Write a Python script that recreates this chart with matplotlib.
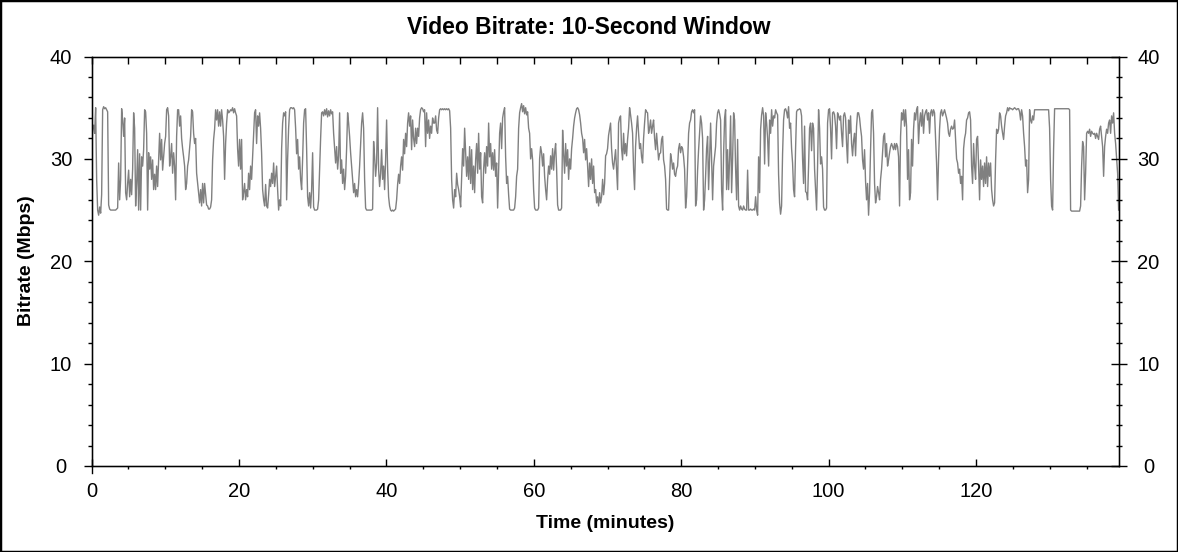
import numpy as np
import matplotlib
matplotlib.use('Agg')
import matplotlib.pyplot as plt
from matplotlib.patches import Rectangle
from matplotlib.ticker import MultipleLocator

plt.rcParams['font.family'] = ['Liberation Sans', 'DejaVu Sans']

# Bitrate (Mbps), one value per screen column, in six stretches
bitrate_a = [
    30.9, 32.9, 33.3, 32.5, 35.0, 28.0, 25.0, 24.5, 25.3, 24.7,
    26.5, 34.8, 35.1, 34.9, 35.0, 34.8, 34.6, 25.5, 25.1, 25.0,
    25.0, 25.0, 25.0, 25.0, 25.0, 25.1, 25.2, 29.6, 26.0, 28.0,
    34.9, 33.8, 32.2, 34.0, 26.7, 26.0, 27.6, 28.9, 26.3, 28.0,
    26.5, 29.0, 34.5, 33.0, 25.4, 27.6, 30.9, 25.0, 30.5, 25.0,
    30.2, 29.3, 30.9, 34.8, 34.6, 32.5, 25.0, 30.6, 29.0, 30.2,
    28.0, 29.9, 27.0, 28.5, 27.0, 29.3, 27.3, 29.9, 32.5, 29.9,
    31.9, 28.9, 30.2, 31.5, 32.2, 34.8, 35.0, 34.2, 29.3, 30.2,
    31.5, 28.6, 30.6, 29.3, 26.0, 32.2, 34.8, 34.8, 33.2, 34.2,
    32.0, 31.0, 30.2, 29.3, 27.0, 27.6, 29.3, 29.9, 31.0, 32.2,
    34.8, 34.6, 32.5, 31.5, 32.0, 28.6, 27.6, 26.7, 25.7, 27.0,
    25.4, 27.6, 25.7, 27.6, 26.5, 25.5, 25.4, 25.1, 25.1, 25.3,
    26.0, 29.9, 31.9, 32.9, 34.8, 33.8, 34.8, 33.2, 34.6, 33.2,
    34.8, 33.8, 32.2, 28.0, 31.5, 33.5, 34.8, 34.5, 34.6, 34.8,
    34.7, 35.0, 34.5, 34.9, 34.5, 34.2, 31.0, 29.3, 31.9, 29.0,
    31.9, 26.0, 26.7, 27.6, 26.0, 27.0, 26.3, 28.6, 27.0, 29.3,
    28.0, 30.2, 32.5, 34.5, 34.8, 31.5, 34.2, 33.2, 34.5, 33.0,
    30.6,
]
bitrate_b = [
    27.0, 26.0, 25.4, 27.5, 25.4, 25.2, 26.5, 28.0, 27.3, 28.6,
    27.6, 29.6, 27.3, 28.3, 29.3, 27.0, 25.0, 26.0, 25.4, 31.0,
    33.5, 34.5, 34.2, 34.6, 26.0, 30.0, 33.0, 34.8, 35.0, 35.0,
    34.9, 35.0, 34.8, 33.0, 30.5, 31.9, 29.0, 30.2, 28.0, 27.0,
    30.0, 33.5, 34.8, 34.9, 31.0, 26.3, 25.4, 26.7, 25.2, 27.0,
    30.6, 25.3, 25.0, 25.0, 25.0, 25.1, 26.0, 29.0, 32.0, 34.5,
    34.6, 34.2, 34.8, 34.3, 34.9, 34.1, 34.7, 34.2, 34.8, 34.4,
    34.6, 32.5, 31.0, 29.6, 31.2, 29.0, 30.3, 34.5, 28.6, 29.9,
    27.6, 29.0, 27.0, 28.3, 31.0, 34.5, 33.5, 32.2, 30.6, 29.3,
    28.0, 26.7, 27.6, 26.3, 27.0, 26.3, 27.6, 29.3, 31.5, 33.5,
    34.5, 33.0, 28.0, 25.2, 25.0, 25.0, 25.0, 25.0, 25.0, 25.0,
    25.1, 31.7, 30.2, 28.3, 29.6, 35.0, 29.0, 27.3, 28.6, 30.9,
    28.0, 29.3, 27.0, 29.9, 33.8, 29.0, 26.3, 25.4, 25.0, 24.9,
    25.0, 24.9, 25.0, 25.1, 26.0, 27.5, 28.5, 27.6, 29.3, 30.2,
    28.9, 31.9, 30.5, 32.5, 31.2, 33.5, 34.5, 33.2, 34.2, 30.9,
    33.8, 32.0, 31.2, 33.0, 31.5, 33.0, 32.2, 34.0, 34.8, 35.0,
    34.9, 34.6, 34.8, 31.2, 34.5, 32.5, 33.8, 32.0, 33.2, 32.5,
    34.0, 33.5,
]
bitrate_c = [
    33.5, 34.2, 32.8, 32.5, 34.0, 34.8, 34.9, 34.8, 34.9, 34.8,
    34.9, 34.8, 34.9, 34.8, 34.9, 34.7, 33.0, 28.0, 26.0, 25.2,
    27.0, 26.3, 28.6, 27.5, 27.0, 26.3, 25.3, 28.0, 31.0, 29.3,
    33.0, 30.6, 28.3, 30.2, 28.0, 31.2, 27.6, 30.9, 27.0, 29.3,
    26.7, 29.9, 31.5, 28.6, 32.5, 29.0, 30.6, 26.3, 25.7, 29.0,
    30.6, 28.6, 31.2, 29.3, 33.5, 30.2, 31.5, 29.0, 30.6, 28.9,
    30.9, 28.3, 29.6, 25.2, 29.0, 32.5, 33.5, 31.0, 34.0, 34.6,
    35.0, 30.2, 27.6, 28.3, 26.5, 25.1, 25.0, 25.0, 25.0, 25.0,
    25.2, 26.3, 28.3, 29.0, 33.0, 34.5, 35.0, 35.4, 34.6, 35.2,
    34.4, 35.0, 34.3, 34.6, 33.0, 32.5, 30.0, 31.0, 29.9, 27.0,
    25.2, 25.0, 25.0, 25.0, 25.2, 30.0, 31.2, 30.6, 29.3, 30.5,
    28.3, 27.0, 26.0, 28.0, 29.3, 28.5, 30.3, 29.0, 31.0, 28.9,
    30.6, 31.5, 29.0, 25.5, 25.0, 25.0, 25.0, 25.2, 32.8, 30.5,
    28.6, 31.5, 29.3, 30.9, 28.0, 30.0, 29.0, 31.0, 32.0, 33.2,
    34.0, 34.5, 34.9, 35.0, 34.8, 34.3, 33.5, 32.5, 32.0, 30.6,
    31.9, 29.9, 31.0, 29.3, 27.3, 29.6, 28.0, 30.0, 27.6, 29.3,
    26.7, 27.0, 25.7, 26.3, 25.4, 26.7, 25.7, 26.3, 28.0, 26.5,
    27.6, 30.3,
]
bitrate_d = [
    30.5, 31.0, 32.3, 32.9, 33.5, 31.0, 29.6, 29.0, 30.0, 30.9,
    29.0, 27.0, 33.5, 34.0, 34.2, 31.0, 29.9, 32.5, 30.5, 31.5,
    30.3, 31.9, 33.0, 35.0, 34.3, 33.5, 32.5, 29.0, 27.0, 31.2,
    33.0, 34.2, 32.5, 31.0, 31.5, 30.2, 29.6, 32.0, 33.5, 34.8,
    34.6, 34.5, 32.5, 33.0, 33.8, 32.5, 33.2, 33.8, 32.0, 30.9,
    32.5, 31.2, 29.9, 30.5, 30.6, 31.9, 32.2, 29.9, 29.3, 28.0,
    25.1, 25.0, 25.0, 28.0, 30.5, 29.9, 29.0, 29.6, 28.5, 28.3,
    29.0, 29.3, 31.0, 31.5, 30.6, 31.2, 31.0, 30.2, 29.0, 25.2,
    26.3, 29.3, 32.5, 33.5, 33.8, 34.6, 34.8, 34.5, 34.8, 25.4,
    26.0, 28.9, 30.9, 32.5, 34.2, 33.5, 32.0, 25.0, 26.0, 28.3,
    31.0, 32.2, 27.0, 30.0, 33.5, 30.0, 26.0, 29.3, 30.3, 31.2,
    33.5, 34.5, 34.8, 34.4, 33.8, 27.0, 25.0, 30.5, 34.0, 34.8,
    27.0, 30.9, 27.0, 30.0, 34.2, 26.7, 30.0, 34.5, 33.8, 29.0,
    26.0, 31.9, 25.4, 25.0, 25.4, 25.1, 25.0, 25.4, 25.1, 25.0,
    25.0, 28.9, 25.0, 25.0, 25.1, 25.0, 25.0, 25.1, 25.0, 26.3,
    25.0, 24.5, 30.2, 26.7, 32.9, 34.3, 35.0, 34.2, 29.5, 34.5,
    33.5, 32.0, 29.3, 33.8, 32.5, 34.8, 33.2, 34.2, 34.0, 34.8,
    34.5, 34.3,
]
bitrate_e = [
    28.5, 25.7, 24.6, 25.4, 30.5, 33.8, 34.8, 34.9, 34.6, 34.0,
    35.1, 33.0, 33.5, 31.0, 29.6, 27.0, 26.3, 31.0, 34.6, 34.8,
    34.8, 34.9, 34.8, 34.2, 30.0, 27.6, 33.2, 26.8, 26.7, 26.0,
    29.3, 33.0, 33.5, 30.8, 33.5, 33.0, 29.0, 27.0, 25.0, 29.3,
    34.8, 33.0, 29.5, 30.2, 29.0, 25.3, 25.0, 25.0, 25.2, 33.5,
    34.8, 34.9, 33.0, 30.0, 34.5, 34.6, 34.3, 33.2, 31.0, 34.5,
    34.2, 33.8, 34.2, 32.5, 31.2, 34.2, 34.5, 34.0, 31.5, 29.6,
    33.8, 32.5, 34.2, 31.5, 30.3, 31.8, 32.5, 30.3, 33.2, 34.5,
    34.5, 34.0, 33.0, 32.2, 29.9, 29.0, 30.9, 27.8, 26.0, 27.6,
    24.5, 26.7, 30.9, 34.5, 34.8, 32.5, 27.6, 25.7, 26.3, 27.3,
    26.7, 26.0, 28.0, 29.0, 30.6, 32.2, 32.5, 30.2, 31.5, 29.3,
    29.9, 30.6, 31.2, 31.5, 31.2, 30.9, 31.5, 30.9, 31.5, 31.2,
    30.2, 25.4, 32.2, 34.5, 33.8, 34.8, 33.2, 34.8, 33.2, 28.0,
    30.9, 26.0, 26.7, 31.9, 29.3, 32.9, 34.5, 33.8, 34.8, 35.1,
    31.5, 33.5, 34.5, 33.2, 34.8, 32.5, 34.2, 34.6, 34.8, 33.8,
    34.5, 32.5, 34.5, 34.8, 34.2, 34.8, 34.5, 32.0, 29.6, 26.0,
    29.9, 32.9, 34.5, 34.8, 34.2, 34.5, 34.8, 34.4, 34.0, 33.5,
    32.5, 32.2,
]
bitrate_f = [
    32.9, 33.2, 32.9, 33.0, 33.8, 32.0, 30.0, 29.6, 28.6, 29.0,
    27.6, 28.3, 26.0, 31.0, 32.0, 32.5, 33.8, 34.0, 34.5, 34.6,
    33.8, 29.3, 27.6, 31.5, 29.3, 28.0, 31.9, 32.2, 29.3, 26.0,
    29.9, 28.0, 29.3, 27.3, 29.6, 27.6, 30.2, 27.3, 29.6, 28.3,
    29.6, 27.0, 26.0, 25.4, 25.7, 29.9, 32.9, 32.5, 32.9, 34.5,
    34.2, 33.2, 32.5, 31.9, 33.2, 34.2, 34.5, 35.0, 34.7, 35.0,
    34.9, 34.9, 34.8, 34.9, 35.0, 34.9, 34.8, 34.9, 34.9, 34.6,
    33.8, 34.8, 34.2, 32.5, 31.2, 29.3, 29.9, 26.7, 28.0, 34.8,
    33.8, 33.5, 34.2, 33.8, 34.8, 34.8, 34.8, 34.8, 34.8, 34.8,
    34.8, 34.8, 34.8, 34.8, 34.8, 34.8, 34.8, 34.8, 34.8, 33.0,
    28.0, 25.4, 25.0, 31.0, 34.9, 34.9, 34.9, 34.9, 34.9, 34.9,
    34.9, 34.9, 34.9, 34.9, 34.9, 34.9, 34.9, 34.9, 34.9, 34.8,
    25.0, 24.9, 24.9, 24.9, 24.9, 24.9, 24.9, 24.9, 24.9, 24.9,
    25.4, 29.3, 31.7, 31.2, 26.0, 28.6, 32.5, 32.7, 32.5, 32.9,
    32.2, 32.7, 32.5, 32.4, 32.5, 32.0, 32.5, 32.2, 31.9, 32.9,
    33.2, 32.2, 31.2, 28.3, 31.2, 32.2, 32.9, 32.5, 33.5, 33.8,
    32.5, 34.2, 33.5, 34.5, 32.5, 31.5, 30.0, 28.6, 25.0,
]

# start / end time (minutes) of each stretch
stretch_minutes = [
    (0.0, 23.06), (23.2, 46.4), (46.54, 69.74),
    (69.87, 93.08), (93.21, 116.41), (116.55, 139.35),
]
stretches = [bitrate_a, bitrate_b, bitrate_c, bitrate_d, bitrate_e, bitrate_f]

time_min = np.concatenate([np.linspace(t0, t1, len(v))
                           for (t0, t1), v in zip(stretch_minutes, stretches)])
bitrate = np.concatenate(stretches)

fig = plt.figure(figsize=(11.78, 5.52), dpi=100)
ax = fig.add_axes([0.0778, 0.1558, 0.8721, 0.7418])

ax.plot(time_min, bitrate, color='#808080', linewidth=1.0)

ax.set_xlim(0, 139.4)
ax.set_ylim(0, 40)
ax.xaxis.set_major_locator(MultipleLocator(20))
ax.xaxis.set_minor_locator(MultipleLocator(5))
ax.yaxis.set_major_locator(MultipleLocator(10))
ax.yaxis.set_minor_locator(MultipleLocator(2))

for sp in ax.spines.values():
    sp.set_linewidth(1.0)

# left labels are centred under a point ~31 px left of the spine
ax.tick_params(axis='y', which='major', direction='out', length=5.8, width=1,
               labelsize=14.5, pad=16.3)
ax.tick_params(axis='y', which='minor', direction='out', length=3, width=1)
ax.tick_params(axis='x', which='major', direction='in', length=5, width=1,
               labelsize=14.5, pad=11.5)
ax.tick_params(axis='x', which='minor', direction='out', length=2.2, width=1)
for lbl in ax.get_yticklabels():
    lbl.set_horizontalalignment('center')

# right axis: same scale, ticks crossing the spine
axr = ax.twinx()
axr.set_ylim(0, 40)
axr.yaxis.set_major_locator(MultipleLocator(10))
axr.yaxis.set_minor_locator(MultipleLocator(2))
axr.tick_params(axis='y', which='major', direction='inout', length=11.5, width=1,
                labelsize=14.5, pad=15.5)
axr.tick_params(axis='y', which='minor', direction='inout', length=5, width=1)
for lbl in axr.get_yticklabels():
    lbl.set_horizontalalignment('center')

# top axis: ticks only
axt = ax.twiny()
axt.set_xlim(0, 139.4)
axt.xaxis.set_major_locator(MultipleLocator(20))
axt.xaxis.set_minor_locator(MultipleLocator(5))
axt.tick_params(axis='x', which='both', direction='in', length=5, width=1,
                labeltop=False)

# little extension of the left spine below the time axis
ax.plot([0, 0], [0, -0.017], transform=ax.transAxes, color='black',
        linewidth=1.0, clip_on=False)

fig.text(0.4996, 0.951, 'Video Bitrate: 10-Second Window', ha='center', va='center',
         fontsize=16.5, fontweight='bold')
fig.text(0.5136, 0.0525, 'Time (minutes)', ha='center', va='center',
         fontsize=14, fontweight='bold')
fig.text(0.0229, 0.527, 'Bitrate (Mbps)', ha='center', va='center', rotation=90,
         fontsize=14, fontweight='bold')

fig.patches.append(Rectangle((0, 0), 1, 1, transform=fig.transFigure, fill=False,
                             edgecolor='black', linewidth=2.5))

fig.savefig('out.png', dpi=100)
